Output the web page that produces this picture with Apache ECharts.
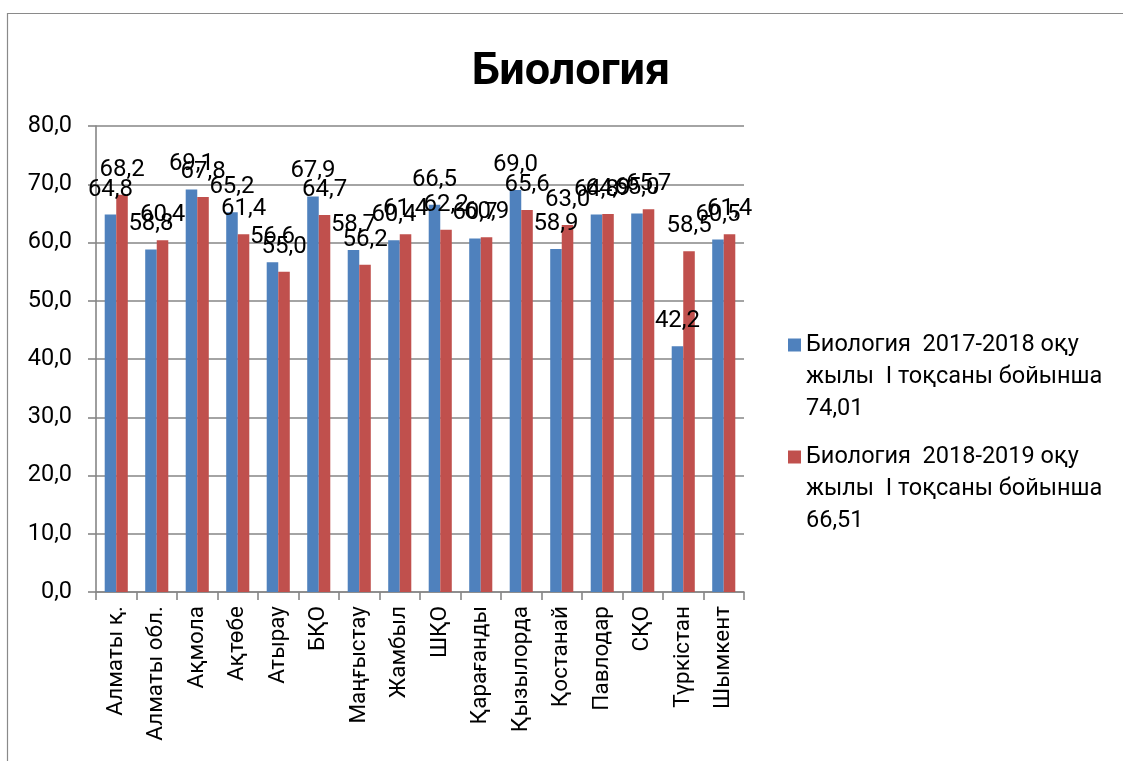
<!DOCTYPE html>
<html>
<head>
<meta charset="utf-8">
<script src="https://cdn.jsdelivr.net/npm/echarts@6/dist/echarts.min.js"></script>
<style>
html,body{margin:0;padding:0;background:#fff;}
#chart{width:1123px;height:761px;}
</style>
</head>
<body>
<div id="chart"></div>
<script>
var titleText = 'Биология';
var categories = ['Алматы қ.', 'Алматы обл.', 'Ақмола', 'Ақтөбе', 'Атырау', 'БҚО', 'Маңғыстау', 'Жамбыл', 'ШҚО', 'Қарағанды', 'Қызылорда', 'Қостанай', 'Павлодар', 'СҚО', 'Түркістан', 'Шымкент'];
var series2017Name = 'Биология  2017-2018 оқу\nжылы  І тоқсаны бойынша\n74,01';
var series2018Name = 'Биология  2018-2019 оқу\nжылы  І тоқсаны бойынша\n66,51';
var values2017 = [64.8, 58.8, 69.1, 65.2, 56.6, 67.9, 58.7, 60.4, 66.5, 60.7, 69.0, 58.9, 64.8, 65.0, 42.2, 60.5];
var values2018 = [68.2, 60.4, 67.8, 61.4, 55.0, 64.7, 56.2, 61.4, 62.2, 60.9, 65.6, 63.0, 64.9, 65.7, 58.5, 61.4];

var FONT = 'Roboto';
function fmt(v){ return Number(v).toFixed(1).replace('.', ','); }

var chart = echarts.init(document.getElementById('chart'), null, {renderer: 'canvas'});
chart.setOption({
  backgroundColor: '#ffffff',
  animation: false,
  textStyle: {fontFamily: FONT},
  graphic: [{
    type: 'rect', silent: true,
    shape: {x: 7.5, y: 13.5, width: 1300, height: 900},
    style: {fill: 'none', stroke: '#8a8a8a', lineWidth: 1.2}
  }],
  title: {
    text: titleText,
    left: 566, top: 45, textAlign: 'center',
    textStyle: {fontFamily: FONT, fontWeight: 'bold', fontSize: 45, color: '#000'}
  },
  legend: {
    orient: 'vertical',
    left: 788, top: 265, padding: 0,
    itemWidth: 13, itemHeight: 13, itemGap: -48,
    icon: 'rect',
    formatter: function(name){ return '\n\n' + name; },
    textStyle: {fontFamily: FONT, fontSize: 23.5, color: '#000', lineHeight: 32},
    data: [series2017Name, series2018Name]
  },
  grid: {left: 96, right: 379, top: 126, bottom: 169, containLabel: false},
  xAxis: {
    type: 'category',
    data: categories,
    axisLine: {lineStyle: {color: '#868686', width: 1.6}},
    axisTick: {show: true, length: 8, lineStyle: {color: '#868686', width: 1.6}},
    axisLabel: {rotate: 90, margin: 14, fontFamily: FONT, fontSize: 22.5, color: '#000', interval: 0}
  },
  yAxis: {
    type: 'value', min: 0, max: 80, interval: 10,
    axisLine: {show: true, lineStyle: {color: '#868686', width: 1.6}},
    axisTick: {show: true, length: 8, lineStyle: {color: '#868686', width: 1.6}},
    splitLine: {lineStyle: {color: '#868686', width: 1.6}},
    axisLabel: {margin: 24, fontFamily: FONT, fontSize: 23.5, color: '#000', formatter: function(v){ return fmt(v); }}
  },
  series: [{
    name: series2017Name, type: 'bar', data: values2017,
    barGap: '0%', barCategoryGap: '43%',
    itemStyle: {color: '#4F81BD'},
    label: {show: true, position: 'top', distance: 13, fontFamily: FONT, fontSize: 24, color: '#000', formatter: function(p){ return fmt(p.value); }}
  }, {
    name: series2018Name, type: 'bar', data: values2018,
    itemStyle: {color: '#C0504D'},
    label: {show: true, position: 'top', distance: 13, fontFamily: FONT, fontSize: 24, color: '#000', formatter: function(p){ return fmt(p.value); }}
  }]
});
</script>
</body>
</html>
